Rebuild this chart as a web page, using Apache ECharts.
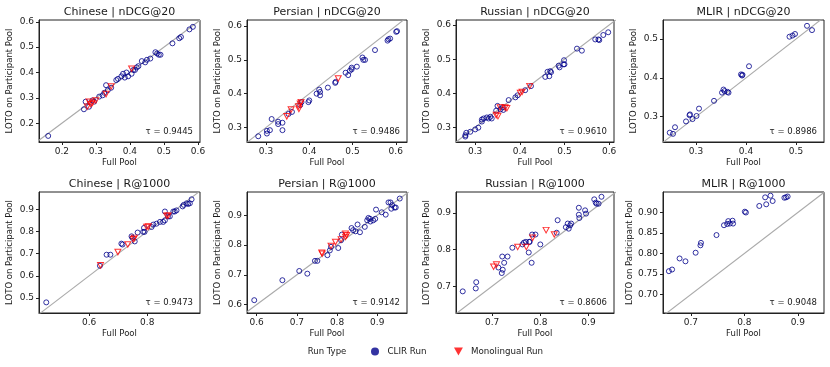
<!DOCTYPE html>
<html>
<head>
<meta charset="utf-8">
<script src="https://cdn.jsdelivr.net/npm/echarts@6/dist/echarts.min.js"></script>
<style>
html,body{margin:0;padding:0;background:#fff;}
#chart{width:830px;height:367px;}
</style>
</head>
<body>
<div id="chart"></div>
<script>
// ---------------- DATA ----------------
const panelTitles = ['Chinese | nDCG@20', 'Persian | nDCG@20', 'Russian | nDCG@20', 'MLIR | nDCG@20',
  'Chinese | R@1000', 'Persian | R@1000', 'Russian | R@1000', 'MLIR | R@1000'];
const taus = ['0.9445', '0.9486', '0.9610', '0.8986', '0.9473', '0.9142', '0.8606', '0.9048'];
const xTicks = [[0.2,0.3,0.4,0.5,0.6],[0.3,0.4,0.5,0.6],[0.3,0.4,0.5,0.6],[0.3,0.4,0.5],
  [0.6,0.8],[0.6,0.7,0.8,0.9],[0.7,0.8,0.9],[0.7,0.8,0.9]];
const yTicks = [[0.2,0.3,0.4,0.5,0.6],[0.3,0.4,0.5,0.6],[0.3,0.4,0.5,0.6],[0.3,0.4,0.5],
  [0.5,0.6,0.7,0.8,0.9],[0.6,0.7,0.8,0.9],[0.7,0.8,0.9],[0.70,0.75,0.80,0.85,0.90]];
const axisRanges = [
  [0.133,0.606,0.126,0.607],[0.256,0.626,0.257,0.618],[0.257,0.611,0.257,0.615],[0.234,0.556,0.235,0.549],
  [0.427,0.982,0.432,0.978],[0.576,0.974,0.572,0.978],[0.625,0.953,0.627,0.957],[0.648,0.949,0.655,0.950]];

const zhNdcgClir = [[0.16,0.15],[0.265,0.255],[0.27,0.285],[0.28,0.265],[0.29,0.29],[0.295,0.285],[0.31,0.305],
  [0.32,0.31],[0.325,0.32],[0.33,0.35],[0.335,0.33],[0.345,0.34],[0.36,0.37],[0.365,0.375],[0.375,0.385],
  [0.38,0.395],[0.385,0.38],[0.39,0.4],[0.395,0.385],[0.405,0.395],[0.41,0.41],[0.415,0.41],[0.42,0.42],
  [0.425,0.425],[0.435,0.445],[0.445,0.44],[0.45,0.45],[0.46,0.455],[0.475,0.48],[0.48,0.475],[0.485,0.47],
  [0.49,0.47],[0.525,0.515],[0.545,0.535],[0.55,0.54],[0.575,0.57],[0.585,0.58]];
const zhNdcgMono = [[0.275,0.265],[0.28,0.285],[0.285,0.275],[0.29,0.28],[0.3,0.29],[0.33,0.315],[0.345,0.345],[0.405,0.415]];

const faNdcgClir = [[0.282,0.274],[0.302,0.282],[0.302,0.29],[0.309,0.292],[0.313,0.325],[0.328,0.317],[0.328,0.31],
  [0.338,0.292],[0.338,0.314],[0.352,0.34],[0.36,0.346],[0.382,0.375],[0.379,0.366],[0.398,0.375],[0.40,0.38],
  [0.417,0.40],[0.423,0.412],[0.425,0.405],[0.425,0.395],[0.443,0.418],[0.46,0.432],[0.461,0.435],[0.484,0.462],
  [0.49,0.455],[0.494,0.468],[0.498,0.472],[0.498,0.477],[0.51,0.48],[0.523,0.507],[0.525,0.50],[0.529,0.50],
  [0.552,0.529],[0.581,0.557],[0.583,0.561],[0.587,0.563],[0.603,0.585],[0.601,0.583]];
const faNdcgMono = [[0.348,0.333],[0.358,0.353],[0.375,0.362],[0.379,0.37],[0.381,0.375],[0.376,0.355],[0.467,0.445]];

const ruNdcgClir = [[0.278,0.273],[0.278,0.277],[0.28,0.284],[0.289,0.287],[0.3,0.294],[0.307,0.299],[0.315,0.323],
  [0.315,0.317],[0.319,0.326],[0.326,0.329],[0.33,0.326],[0.334,0.331],[0.337,0.326],[0.347,0.349],[0.35,0.363],
  [0.357,0.353],[0.362,0.359],[0.363,0.351],[0.375,0.38],[0.39,0.388],[0.395,0.394],[0.412,0.409],[0.425,0.421],
  [0.457,0.448],[0.462,0.463],[0.466,0.45],[0.468,0.465],[0.47,0.462],[0.487,0.481],[0.489,0.476],[0.498,0.485],
  [0.499,0.497],[0.5,0.485],[0.528,0.531],[0.539,0.525],[0.569,0.558],[0.576,0.558],[0.578,0.556],[0.587,0.571],[0.598,0.579]];
const ruNdcgMono = [[0.347,0.336],[0.351,0.333],[0.356,0.358],[0.367,0.358],[0.371,0.356],[0.405,0.404],[0.401,0.401],[0.422,0.421]];

const mlirNdcgClir = [[0.2475,0.259],[0.254,0.256],[0.258,0.273],[0.28,0.288],[0.287,0.304],[0.288,0.306],[0.293,0.294],
  [0.301,0.302],[0.306,0.321],[0.336,0.341],[0.352,0.362],[0.355,0.37],[0.357,0.366],[0.363,0.364],[0.365,0.362],
  [0.39,0.409],[0.392,0.406],[0.393,0.408],[0.406,0.43],[0.487,0.506],[0.493,0.509],[0.498,0.513],[0.522,0.534],[0.532,0.523]];

const zhRecallClir = [[0.452,0.48],[0.637,0.645],[0.66,0.695],[0.673,0.695],[0.711,0.745],[0.715,0.741],[0.746,0.778],
  [0.749,0.771],[0.767,0.795],[0.757,0.755],[0.786,0.798],[0.791,0.798],[0.789,0.816],[0.815,0.82],[0.821,0.831],
  [0.832,0.835],[0.844,0.843],[0.855,0.843],[0.861,0.85],[0.861,0.89],[0.872,0.868],[0.878,0.868],[0.89,0.89],
  [0.895,0.89],[0.901,0.895],[0.922,0.913],[0.926,0.92],[0.936,0.927],[0.941,0.924],[0.947,0.927],[0.953,0.945]];
const zhRecallMono = [[0.639,0.647],[0.699,0.707],[0.733,0.741],[0.752,0.765],[0.756,0.771],[0.798,0.82],[0.804,0.822],[0.867,0.871],[0.872,0.871]];

const faRecallClir = [[0.594,0.615],[0.664,0.682],[0.706,0.713],[0.726,0.704],[0.745,0.747],[0.751,0.747],[0.776,0.766],
  [0.782,0.782],[0.785,0.794],[0.803,0.79],[0.81,0.816],[0.812,0.835],[0.836,0.857],[0.84,0.85],[0.846,0.846],
  [0.851,0.869],[0.857,0.843],[0.869,0.861],[0.875,0.883],[0.878,0.891],[0.882,0.888],[0.883,0.879],[0.89,0.883],
  [0.895,0.888],[0.897,0.919],[0.911,0.91],[0.921,0.902],[0.928,0.943],[0.933,0.943],[0.935,0.922],[0.937,0.934],
  [0.943,0.926],[0.946,0.926],[0.956,0.956]];
const faRecallMono = [[0.762,0.774],[0.763,0.771],[0.785,0.797],[0.796,0.81],[0.81,0.819],[0.821,0.838],[0.824,0.833],[0.821,0.827]];

const ruRecallClir = [[0.639,0.686],[0.666,0.694],[0.667,0.711],[0.713,0.751],[0.72,0.736],[0.721,0.781],[0.722,0.745],
  [0.725,0.764],[0.732,0.781],[0.742,0.805],[0.763,0.814],[0.766,0.819],[0.77,0.821],[0.777,0.821],[0.778,0.821],
  [0.776,0.792],[0.782,0.764],[0.783,0.841],[0.79,0.841],[0.8,0.814],[0.834,0.846],[0.836,0.88],[0.853,0.861],
  [0.857,0.871],[0.859,0.857],[0.862,0.866],[0.864,0.871],[0.88,0.914],[0.88,0.895],[0.881,0.886],[0.893,0.907],
  [0.895,0.898],[0.912,0.937],[0.915,0.928],[0.917,0.925],[0.921,0.925],[0.927,0.944]];
const ruRecallMono = [[0.703,0.753],[0.709,0.759],[0.753,0.807],[0.771,0.807],[0.784,0.832],[0.812,0.853],[0.829,0.841]];

const mlirRecallClir = [[0.659,0.757],[0.665,0.761],[0.679,0.788],[0.69,0.781],[0.709,0.802],[0.718,0.82],[0.719,0.826],
  [0.748,0.845],[0.762,0.869],[0.768,0.872],[0.77,0.879],[0.773,0.873],[0.778,0.88],[0.779,0.873],[0.801,0.902],
  [0.803,0.9],[0.828,0.916],[0.839,0.937],[0.841,0.92],[0.849,0.941],[0.853,0.928],[0.875,0.936],[0.878,0.937],[0.881,0.939]];

const clirSets = [zhNdcgClir, faNdcgClir, ruNdcgClir, mlirNdcgClir, zhRecallClir, faRecallClir, ruRecallClir, mlirRecallClir];
const monoSets = [zhNdcgMono, faNdcgMono, ruNdcgMono, [], zhRecallMono, faRecallMono, ruRecallMono, []];
const legendTitle = 'Run Type';
const seriesNames = ['CLIR Run', 'Monolingual Run'];

// ---------------- LAYOUT ----------------
const gridLefts = [39, 247, 456, 663];
const gridWidths = [161, 160, 158, 161];
const rowTops = [20, 192];
const rowHeights = [122, 121];
const FONT = 'DejaVu Sans';
const TXT = '#1a1a1a';
const BLUE = '#00008b';
const RED = '#ff0000';
const triDown = 'path://M0,0L10,0L5,9Z';

const grids = [], xAxes = [], yAxes = [], series = [], graphics = [];
for (let i = 0; i < 8; i++) {
  const col = i % 4, row = Math.floor(i / 4);
  const left = gridLefts[col], width = gridWidths[col], top = rowTops[row], height = rowHeights[row];
  const r = axisRanges[i];
  grids.push({left, top, width, height, show: true, borderColor: '#222', borderWidth: 1, backgroundColor: 'transparent'});
  const dec = (i === 7) ? 2 : 1;
  xAxes.push({
    type: 'value', gridIndex: i, min: r[0], max: r[1],
    name: 'Full Pool', nameLocation: 'middle', nameGap: 16,
    nameTextStyle: {fontFamily: FONT, fontSize: 8.5, color: TXT},
    axisLine: {show: true, onZero: false, lineStyle: {color: '#222', width: 1}},
    axisTick: {show: true, length: 3, customValues: xTicks[i], lineStyle: {color: '#222'}},
    axisLabel: {customValues: xTicks[i], formatter: v => Number(v).toFixed(1), fontFamily: FONT, fontSize: 9, color: TXT, margin: 5},
    splitLine: {show: false}
  });
  yAxes.push({
    type: 'value', gridIndex: i, min: r[2], max: r[3],
    name: 'LOTO on Participant Pool', nameLocation: 'middle', nameGap: 25, nameRotate: 90,
    nameTextStyle: {fontFamily: FONT, fontSize: 8.5, color: TXT},
    axisLine: {show: true, onZero: false, lineStyle: {color: '#222', width: 1}},
    axisTick: {show: true, length: 3, customValues: yTicks[i], lineStyle: {color: '#222'}},
    axisLabel: {customValues: yTicks[i], formatter: v => Number(v).toFixed(dec), fontFamily: FONT, fontSize: 9, color: TXT, margin: 5},
    splitLine: {show: false}
  });
  const lo = Math.min(r[0], r[2]), hi = Math.max(r[1], r[3]);
  series.push({
    type: 'line', xAxisIndex: i, yAxisIndex: i, data: [[lo, lo], [hi, hi]],
    symbol: 'none', silent: true, clip: true, z: 1,
    lineStyle: {color: '#aaaaaa', width: 1.1}
  });
  series.push({
    name: seriesNames[0], type: 'scatter', xAxisIndex: i, yAxisIndex: i, data: clirSets[i],
    symbol: 'circle', symbolSize: 5, z: 3,
    itemStyle: {color: 'rgba(0,0,0,0)', borderColor: BLUE, borderWidth: 1}
  });
  if (monoSets[i].length) {
    series.push({
      name: seriesNames[1], type: 'scatter', xAxisIndex: i, yAxisIndex: i, data: monoSets[i],
      symbol: triDown, symbolSize: [6, 5.5], z: 4,
      itemStyle: {color: 'rgba(0,0,0,0)', borderColor: RED, borderWidth: 1}
    });
  }
  graphics.push({
    type: 'text', x: left + width / 2, y: top - 8,
    style: {text: panelTitles[i], fontFamily: FONT, fontSize: 11, fill: TXT, textAlign: 'center', textVerticalAlign: 'middle'}
  });
  graphics.push({
    type: 'text', x: left + width - 7, y: top + height - 10,
    style: {text: '\u03c4 = ' + taus[i], fontFamily: FONT, fontSize: 8.5, fill: TXT, textAlign: 'right', textVerticalAlign: 'middle'}
  });
}
graphics.push({
  type: 'text', x: 327, y: 352,
  style: {text: legendTitle, fontFamily: FONT, fontSize: 8.5, fill: TXT, textAlign: 'center', textVerticalAlign: 'middle'}
});

const legendBase = {
  top: 342, orient: 'horizontal', itemWidth: 15, itemHeight: 8, selectedMode: false,
  textStyle: {fontFamily: FONT, fontSize: 8.7, color: TXT}
};

const chart = echarts.init(document.getElementById('chart'), null, {renderer: 'canvas'});
chart.setOption({
  animation: false,
  backgroundColor: '#ffffff',
  grid: grids, xAxis: xAxes, yAxis: yAxes, series,
  graphic: graphics,
  legend: [
    Object.assign({}, legendBase, {left: 366, data: [{name: seriesNames[0], icon: 'circle', itemStyle: {color: BLUE, borderWidth: 0}}]}),
    Object.assign({}, legendBase, {left: 449, data: [{name: seriesNames[1], icon: triDown, itemStyle: {color: RED, borderWidth: 0}}]})
  ]
});
</script>
</body>
</html>
